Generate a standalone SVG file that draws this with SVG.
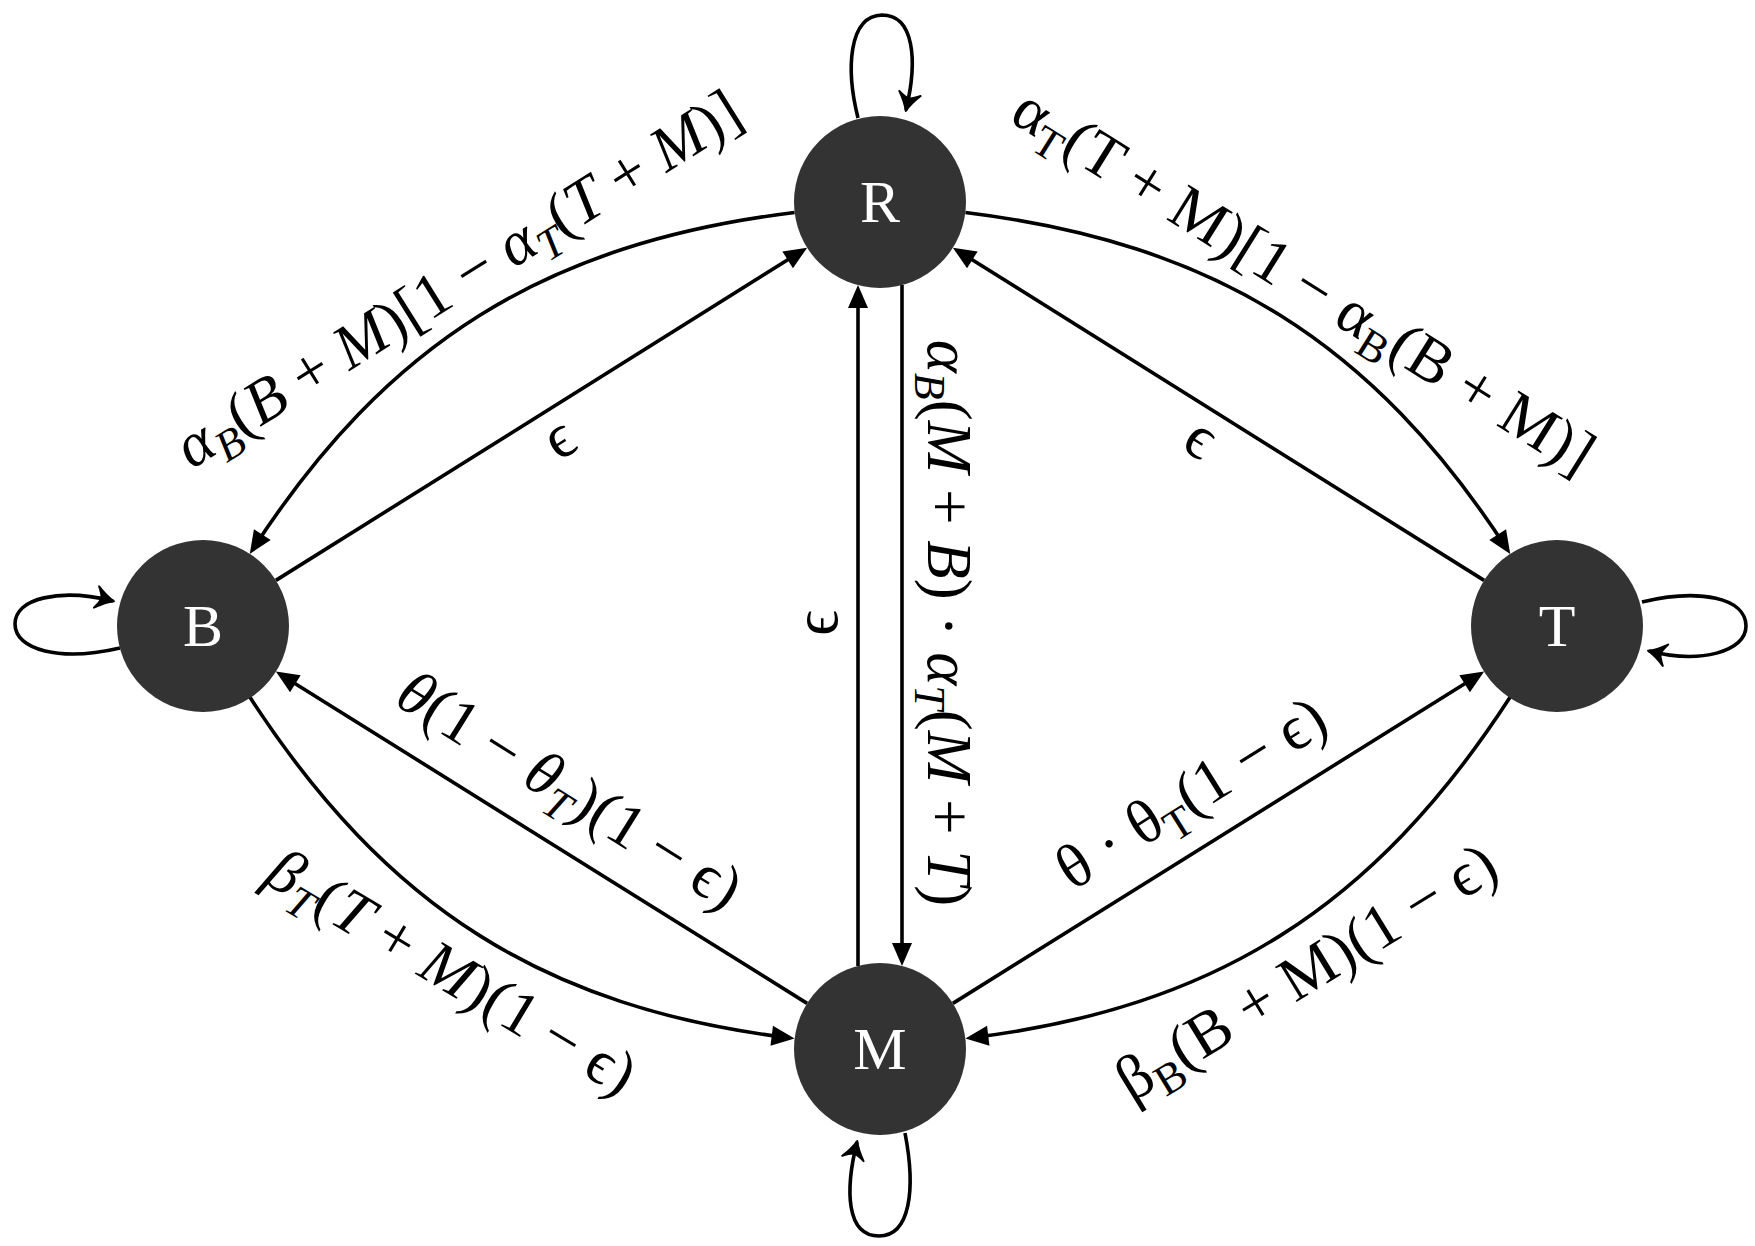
<svg xmlns="http://www.w3.org/2000/svg" width="1755" height="1246" viewBox="0 0 1755 1246">
<style>
.node circle { fill:#333333; }
.node text { fill:#ffffff; font-family:"Liberation Serif","DejaVu Serif",serif; font-size:60px; text-anchor:middle; }
.edge { fill:none; stroke:#000; stroke-width:3.6; }
.lbl { font-family:"Liberation Serif","DejaVu Serif",serif; font-size:63px; text-anchor:middle; fill:#000; }
.i { font-style:italic; }
.sub { font-size:44px; }
</style>
<defs>
<marker id="arr" markerUnits="userSpaceOnUse" markerWidth="40" markerHeight="40" viewBox="-30 -20 40 40" refX="-5" refY="0" orient="auto" overflow="visible">
<path d="M0,0 L-23,-10 L-23,10 z" fill="#000"/>
</marker>
<marker id="loop" markerUnits="userSpaceOnUse" markerWidth="40" markerHeight="40" viewBox="-30 -20 40 40" refX="0" refY="0" orient="auto" overflow="visible">
<path d="M1,0 Q-7,-3 -17,-11 Q-12,-3 -12,0 Q-12,3 -17,11 Q-7,3 1,0 z" fill="#000" stroke="#000" stroke-width="2" stroke-linejoin="round"/>
</marker>
</defs>
<rect width="1755" height="1246" fill="#fff"/>
<g id="connectors">
<path class="edge" marker-end="url(#arr)" d="M794.6,212.5 C544.8,243.2 386.9,342.8 252.5,549.7"/>
<path class="edge" marker-end="url(#arr)" d="M965.4,212.5 C1215.2,243.2 1373.1,342.8 1507.5,549.7"/>
<path class="edge" marker-end="url(#arr)" d="M249.8,697.1 C386.9,908.2 544.8,1007.8 789.6,1037.9"/>
<path class="edge" marker-end="url(#arr)" d="M1510.2,697.1 C1373.1,908.2 1215.2,1007.8 970.4,1037.9"/>
<path class="edge" marker-end="url(#arr)" d="M275.9,580.4 L802.9,250.3"/>
<path class="edge" marker-end="url(#arr)" d="M1484.1,580.4 L957.1,250.3"/>
<path class="edge" marker-end="url(#arr)" d="M807.1,1003.4 L280.1,674.2"/>
<path class="edge" marker-end="url(#arr)" d="M952.9,1003.4 L1479.9,674.2"/>
<path class="edge" marker-end="url(#arr)" d="M902,285.1 L902,960.9"/>
<path class="edge" marker-end="url(#arr)" d="M858,965.9 L858,290.1"/>
<path class="edge" marker-end="url(#loop)" d="M858,118 C846,70 848,16 882,15 C914,15 918,60 906,110"/>
<path class="edge" marker-end="url(#loop)" d="M120,648 C60,662 15,650 15,624 C15,598 60,588 113,601"/>
<path class="edge" marker-end="url(#loop)" d="M1642,602 C1700,588 1746,598 1746,626 C1746,652 1700,664 1649,651"/>
<path class="edge" marker-end="url(#loop)" d="M905,1133 C916,1190 910,1236 879,1236 C846,1236 845,1190 857,1142"/>
</g>
<g id="edge-labels">
<text class="lbl" transform="translate(460,282) rotate(-32)" y="17"><tspan class="i">α</tspan><tspan class="sub i" dy="13">B</tspan><tspan dy="-13">(</tspan><tspan class="i">B</tspan> + <tspan class="i">M</tspan>)[1 − <tspan class="i">α</tspan><tspan class="sub i" dy="13">T</tspan><tspan dy="-13">(</tspan><tspan class="i">T</tspan> + <tspan class="i">M</tspan>)]</text>
<text class="lbl" transform="translate(1302,284) rotate(32)" y="17">α<tspan class="sub" dy="13">T</tspan><tspan dy="-13">(T + M)[1 − α</tspan><tspan class="sub" dy="13">B</tspan><tspan dy="-13">(B + M)]</tspan></text>
<text class="lbl" transform="translate(945,623) rotate(90)" y="17"><tspan class="i">α</tspan><tspan class="sub i" dy="13">B</tspan><tspan dy="-13">(</tspan><tspan class="i">M</tspan> + <tspan class="i">B</tspan>) · <tspan class="i">α</tspan><tspan class="sub i" dy="13">T</tspan><tspan dy="-13">(</tspan><tspan class="i">M</tspan> + <tspan class="i">T</tspan>)</text>
<text class="lbl" transform="translate(823,623) rotate(-90)" y="14">ϵ</text>
<text class="lbl" transform="translate(562,443) rotate(-32)" y="14">ϵ</text>
<text class="lbl" transform="translate(1198,443) rotate(32)" y="14">ϵ</text>
<text class="lbl" transform="translate(568,793) rotate(32)" y="17"><tspan class="i">θ</tspan>(1 − <tspan class="i">θ</tspan><tspan class="sub i" dy="13">T</tspan><tspan dy="-13">)(1 − ϵ)</tspan></text>
<text class="lbl" transform="translate(1193,796) rotate(-32)" y="17">θ · θ<tspan class="sub" dy="13">T</tspan><tspan dy="-13">(1 − ϵ)</tspan></text>
<text class="lbl" transform="translate(450,975) rotate(31)" y="17"><tspan class="i">β</tspan><tspan class="sub i" dy="13">T</tspan><tspan dy="-13">(</tspan><tspan class="i">T</tspan> + <tspan class="i">M</tspan>)(1 − ϵ)</text>
<text class="lbl" transform="translate(1308,975) rotate(-31.5)" y="17">β<tspan class="sub" dy="13">B</tspan><tspan dy="-13">(B + M)(1 − ϵ)</tspan></text>
</g>
<g id="node-R" class="node"><circle cx="880" cy="202" r="86"/><text x="880" y="222">R</text></g>
<g id="node-B" class="node"><circle cx="203" cy="626" r="86"/><text x="203" y="646">B</text></g>
<g id="node-T" class="node"><circle cx="1557" cy="626" r="86"/><text x="1557" y="646">T</text></g>
<g id="node-M" class="node"><circle cx="880" cy="1049" r="86"/><text x="880" y="1069">M</text></g>
</svg>
